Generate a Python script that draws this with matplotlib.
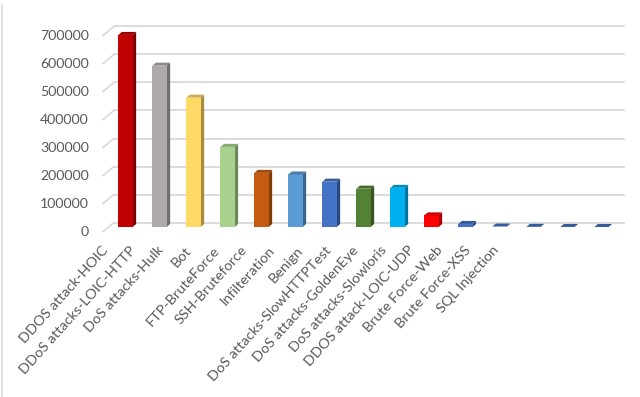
import matplotlib
matplotlib.use('Agg')
import matplotlib.pyplot as plt
import matplotlib.transforms as mtransforms
from matplotlib.patches import Polygon
from matplotlib.lines import Line2D
from matplotlib.colors import to_rgb

categories = ["DDOS attack-HOIC", "DDoS attacks-LOIC-HTTP", "DoS attacks-Hulk", "Bot",
              "FTP-BruteForce", "SSH-Bruteforce", "Infilteration", "Benign",
              "DoS attacks-SlowHTTPTest", "DoS attacks-GoldenEye", "DoS attacks-Slowloris",
              "DDOS attack-LOIC-UDP", "Brute Force-Web", "Brute Force-XSS", "SQL Injection"]
values = [686012, 576191, 461912, 286191, 193360, 187589, 161934, 137000,
          139890, 41508, 10990, 1730, 611, 230, 87]
colors = ["#C00000", "#AEAAAA", "#FFD966", "#A9D18E", "#C55A11", "#5B9BD5", "#4472C4",
          "#548235", "#00B0F0", "#FF0000", "#4472C4", "#4472C4", "#4472C4", "#4472C4", "#4472C4"]
yticks = [0, 100000, 200000, 300000, 400000, 500000, 600000, 700000]
ytick_labels = ["0", "100000", "200000", "300000", "400000", "500000", "600000", "700000"]

W, H = 640, 397
DPI = 100
plt.rcParams['font.family'] = ['Lato', 'DejaVu Sans']
fig = plt.figure(figsize=(W / DPI, H / DPI), dpi=DPI)
fig.patch.set_facecolor('white')

ax = fig.add_axes([108.5 / W, (H - 227) / H, 510 / W, 196 / H])
ax.set_xlim(-0.5, len(categories) - 0.5)
ax.set_ylim(0, 700000)
ax.axis('off')

def shade(c, f):
    r, g, b = to_rgb(c)
    return (r * f, g * f, b * f)

px = lambda dx, dy: mtransforms.ScaledTranslation(dx / DPI, dy / DPI, fig.dpi_scale_trans)
back_t = ax.transData + px(5.5, 4.5)
grid_c = "#D9D9D9"
text_c = "#595959"

# back-wall gridlines
for v in yticks:
    ax.plot([-0.5, len(categories) - 0.5], [v, v], transform=back_t,
            color=grid_c, lw=1.3, clip_on=False, zorder=1)

# diagonal floor/wall ticks and y labels
for v, lab in zip(yticks, ytick_labels):
    p = ax.transData.transform((-0.5, v))
    fig.add_artist(Line2D([p[0] - 5.5, p[0] + 5.5], [p[1] - 4.5, p[1] + 4.5],
                          transform=mtransforms.IdentityTransform(), color=grid_c, lw=1.2))
    ax.text(-0.5, v, lab, transform=ax.transData + px(-19.5, -4.5), ha='right', va='center',
            fontsize=10.2, color=text_c)

# 3D-looking bars
bw = 0.42
x_per_px = (len(categories)) / 510.0
y_per_px = 700000 / 196.0
ddx, ddy = 3.5 * x_per_px, 3.0 * y_per_px
xs = list(range(len(categories)))
ax.bar(xs, values, width=bw, color=colors, edgecolor='none', zorder=3)
for x, v, c in zip(xs, values, colors):
    l, r = x - bw / 2, x + bw / 2
    side = Polygon([(r, 0), (r + ddx, ddy), (r + ddx, v + ddy), (r, v)], closed=True,
                   facecolor=shade(c, 0.65), edgecolor='none', zorder=2.9, clip_on=False)
    top = Polygon([(l, v), (l + ddx, v + ddy), (r + ddx, v + ddy), (r, v)], closed=True,
                  facecolor=shade(c, 0.8), edgecolor='none', zorder=3.1, clip_on=False)
    ax.add_patch(side)
    ax.add_patch(top)

# category labels (rotated, anchored at their end)
for i, lab in enumerate(categories):
    xe = 101 + i * 27.9
    ye = 244
    fig.text(xe / W, (H - ye) / H, lab, rotation=48, rotation_mode='anchor',
             ha='right', va='top', fontsize=10.4, color=text_c)

# chart border (left edge visible)
fig.add_artist(Line2D([1.5, 1.5], [0, H - 5], transform=mtransforms.IdentityTransform(),
                      color=grid_c, lw=1.2))

fig.savefig('out.png', dpi=DPI)
